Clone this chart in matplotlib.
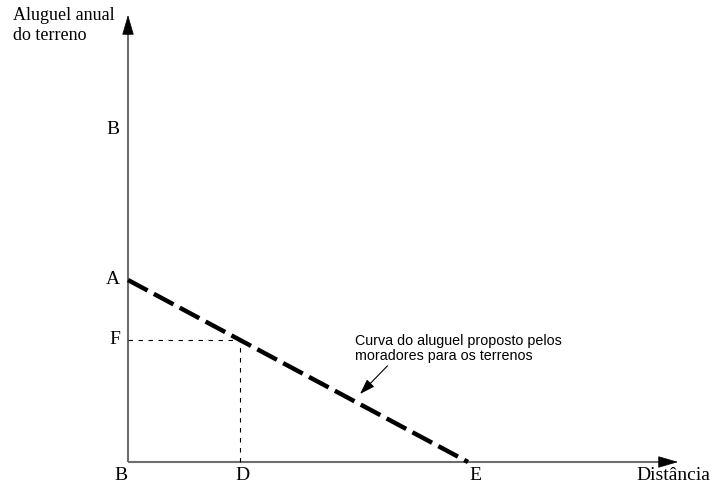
import matplotlib
matplotlib.use("Agg")
import matplotlib.pyplot as plt

# Data (chart units, origin at B)
curve_x = [0, 112, 340]       # B, D, E
curve_y = [182, 122, 0]       # A, F, 0
x_ticks = [0, 112, 340]
x_labels = ["B", "D", "E"]
y_ticks = [332, 182, 122]
y_labels = ["B", "A", "F"]
D_x, F_y = 112, 122

fig = plt.figure(figsize=(7.11, 4.84), dpi=100)
ax = fig.add_axes([0, 0, 1, 1])
ax.set_xlim(-128, 583)
ax.set_ylim(-22, 462)
ax.axis("off")

serif = "Liberation Serif"
sans = "Liberation Sans"

# axes lines
ax.plot([0, 0], [0, 432], color="#6e6e6e", lw=1.5, solid_capstyle="butt")
ax.plot([0, 535], [0, 0], color="#6e6e6e", lw=1.5, solid_capstyle="butt")
# arrow heads
head = dict(arrowstyle="-|>,head_length=1.3,head_width=0.38",
            color="black", lw=0.5, shrinkA=0, shrinkB=0)
ax.annotate("", xy=(0, 447), xytext=(0, 428), arrowprops=head)
ax.annotate("", xy=(550, 0), xytext=(531, 0), arrowprops=head)

# dotted guides
ax.plot([0, D_x], [F_y, F_y], color="black", lw=0.8, linestyle=(0, (4, 5)))
ax.plot([D_x, D_x], [0, F_y], color="black", lw=0.8, linestyle=(0, (4, 5)))

# curve
ax.plot(curve_x, curve_y, color="black", lw=3.2, linestyle=(0, (5.0, 1.6)),
        solid_capstyle="butt", dash_capstyle="butt")

# tick labels
for v, lab in zip(x_ticks, x_labels):
    ax.text(v - (7 if lab == "B" else -2) + (5 if lab == "E" else 0), -5, lab,
            fontsize=14, family=serif, ha="center", va="top")
for v, lab in zip(y_ticks, y_labels):
    ax.text(-8, v, lab, fontsize=14, family=serif, ha="right", va="center")

ax.text(545, -5, "Distância", fontsize=14, family=serif, ha="center", va="top")
ax.text(-115, 455, "Aluguel anual\ndo terreno", fontsize=13, family=serif,
        ha="left", va="top", linespacing=1.2)

ax.annotate("Curva do aluguel proposto pelos\nmoradores para os terrenos",
            xy=(232, 68), xytext=(227, 128), fontsize=10.3, family=sans,
            ha="left", va="top", linespacing=1.1,
            arrowprops=dict(arrowstyle="-|>,head_length=0.9,head_width=0.3",
                            color="black", lw=0.8, shrinkA=0, shrinkB=0,
                            relpos=(0.17, 0)))

fig.savefig("out.png", dpi=100)
